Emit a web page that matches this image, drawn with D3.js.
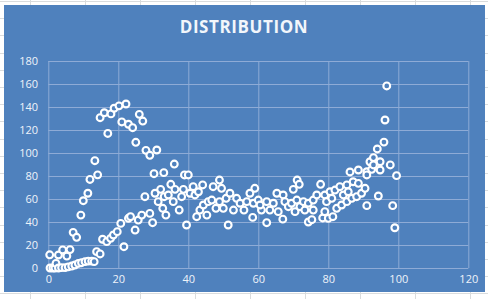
<!DOCTYPE html>
<html>
<head>
<meta charset="utf-8">
<script src="https://cdn.jsdelivr.net/npm/d3@7"></script>
<style>
  body { margin: 0; background: #fff; }
  svg { display: block; }
</style>
</head>
<body>
<svg width="488" height="299"></svg>
<script>
var chartTitle = "DISTRIBUTION";
var xTicks = [0, 20, 40, 60, 80, 100, 120];
var yTicks = [0, 20, 40, 60, 80, 100, 120, 140, 160, 180];

// points, x then y
var xValues = [
    0.4, 0.5, 1.3, 1.9, 2.2, 2.9, 2.9, 3.8, 4.1, 4.8, 5.3, 5.7, 6.2, 6.7, 7.6, 8.6, 9.5, 10.5, 11.4, 12.4, 13.1,
    7.1, 8.1, 9.3, 10.0, 11.3, 11.9, 13.3, 14.1, 14.8, 16.0, 17.0, 17.9, 18.8, 20.2, 21.0, 22.2, 22.9, 24.1,
    25.0, 26.0, 27.0, 27.9, 29.0, 31.0, 30.2, 33.0, 36.0, 38.9, 40.0, 48.9,
    13.8, 14.8, 15.5, 16.7, 17.8, 18.6, 19.7, 20.7, 21.6, 22.9, 23.5, 24.8, 25.7, 26.7, 27.6, 29.0, 29.8,
    30.5, 31.4, 32.1, 32.7, 33.6, 33.1, 34.3, 35.0, 35.7, 36.2, 37.4, 38.1, 38.6, 39.5, 40.5, 41.4, 41.9,
    42.9, 44.1, 42.4, 43.3, 44.3, 45.3, 45.7, 46.7, 47.1, 47.9, 48.9, 49.5, 50.0, 50.8, 51.4, 51.9, 52.9,
    53.8, 54.8, 55.9, 56.7, 57.6, 58.4, 59.0, 58.6, 60.0, 60.9, 62.4, 62.4, 60.5, 63.3, 64.3, 65.3, 65.7,
    67.1, 67.0, 67.6, 68.6, 69.5, 70.0, 70.5, 71.1, 71.7, 71.0, 71.9, 72.9, 73.3, 74.3, 74.3, 75.3, 75.7,
    75.7, 76.7, 77.8, 78.4, 79.0, 79.0, 79.5, 80.0, 80.5, 81.0, 81.3, 81.9, 82.4, 83.3, 83.8, 84.3, 85.3,
    85.3, 85.7, 86.2, 86.7, 87.1, 88.1, 88.6, 88.6, 89.5, 90.5, 91.0, 91.0, 91.0, 91.9, 92.4, 92.9, 92.9,
    94.0, 94.3, 94.8, 94.8, 95.9, 96.2, 96.7, 97.7, 98.4, 99.0, 99.5
];
var yValues = [
    11.5, 0, 0, 0, 4, 0, 11.3, 0.3, 15.7, 0.3, 10.4, 1, 16, 1.7, 2.6, 4, 4.6, 5.5, 6, 6, 5.5,
    31, 26.7, 46, 58.5, 65, 77, 93.3, 81, 130.7, 135, 117, 134, 138.9, 141, 127, 142.6, 125, 122,
    109.3, 133.6, 127.8, 102.3, 98, 102.6, 82, 82.9, 90.4, 80.9, 80.9, 76.5,
    14.2, 12.2, 25, 22.9, 25.8, 28.7, 31.6, 38.8, 18.5, 43.2, 44.6, 33, 41.7, 46, 62, 47.5, 39.4,
    65, 57.7, 68.4, 51.9, 46, 62, 63.5, 72.8, 57.7, 68.4, 50.4, 62, 68.4, 37.4, 65, 70.7, 63.5,
    66.3, 72.2, 44.6, 50.4, 54.8, 46, 57.7, 59.1, 70.7, 51.9, 57.7, 69.3, 51.9, 60.6, 37.4, 65, 50.4,
    60.6, 56.3, 50.4, 57.7, 65, 44, 69.3, 56.3, 59.1, 50.4, 57.7, 39.4, 54.8, 50.4, 56.3, 65, 49,
    63.5, 42.5, 57.7, 53.3, 56.3, 68.4, 49, 76.5, 72.8, 59.1, 53.3, 57.7, 50.4, 56.3, 40, 42, 59.1,
    50.4, 63.5, 72.8, 43.5, 49, 63.5, 57.7, 43.2, 66.3, 60.6, 44.6, 67.8, 51.9, 70.7, 54.8, 63.5, 57.7,
    72.2, 66.3, 83.5, 60.6, 75, 62, 73.6, 85.2, 65, 69.3, 83.7, 54.2, 80.9, 92.4, 85.8, 89.6, 96,
    103.5, 62.6, 85.2, 92.4, 109.5, 128.7, 158.3, 89.6, 54.2, 35, 80.3
];

function main() {
    var svg = d3.select("svg"),
        width = +svg.attr("width"),
        height = +svg.attr("height");

    var blue = "#4f81bd";

    // spreadsheet cells behind the chart
    var cells = svg.append("g");
    d3.range(30, width, 55).forEach(function (x) {
        cells.append("line").attr("x1", x + 0.5).attr("x2", x + 0.5).attr("y1", 0).attr("y2", height)
            .style("stroke", "#dadcdd");
    });
    d3.range(1, height, 17.2).forEach(function (y) {
        cells.append("line").attr("x1", 0).attr("x2", width).attr("y1", Math.round(y) + 0.5).attr("y2", Math.round(y) + 0.5)
            .style("stroke", "#dadcdd");
    });

    // chart area
    svg.append("rect")
        .attr("x", 4).attr("y", 5)
        .attr("width", 481).attr("height", 287)
        .style("fill", blue);

    svg.append("text")
        .attr("x", 244).attr("y", 33)
        .attr("text-anchor", "middle")
        .style("font-family", "'Open Sans', sans-serif")
        .style("font-weight", "bold")
        .style("font-size", "17px")
        .style("letter-spacing", "0.6px")
        .style("fill", "#f2f6fb")
        .text(chartTitle);

    var x = d3.scaleLinear().domain([0, 120]).range([48.3, 468.3]);
    var y = d3.scaleLinear().domain([0, 180]).range([268, 61]);

    // gridlines
    svg.append("g")
        .attr("transform", "translate(0,61)")
        .call(d3.axisBottom(x).tickValues(xTicks).tickSize(207).tickFormat(""))
        .call(function (g) { g.select(".domain").remove(); })
        .selectAll("line").style("stroke", "#8eabd6");

    svg.append("g")
        .attr("transform", "translate(468.3,0)")
        .call(d3.axisLeft(y).tickValues(yTicks).tickSize(420).tickFormat(""))
        .call(function (g) { g.select(".domain").remove(); })
        .selectAll("line").style("stroke", "#8eabd6");

    // axis labels
    var xAxis = svg.append("g")
        .attr("transform", "translate(0,275)")
        .call(d3.axisBottom(x).tickValues(xTicks).tickSize(0).tickPadding(0));
    xAxis.select(".domain").remove();

    var yAxis = svg.append("g")
        .attr("transform", "translate(38,0)")
        .call(d3.axisLeft(y).tickValues(yTicks).tickSize(0).tickPadding(0));
    yAxis.select(".domain").remove();

    svg.selectAll(".tick text")
        .style("font-family", "'Open Sans', sans-serif")
        .style("font-size", "11px")
        .style("fill", "#eef3fa");

    // points
    svg.append("g")
        .selectAll("circle")
        .data(xValues)
        .enter().append("circle")
        .attr("cx", function (d) { return x(d); })
        .attr("cy", function (d, i) { return y(yValues[i]); })
        .attr("r", 3.4)
        .style("fill", blue)
        .style("stroke", "#ffffff")
        .style("stroke-width", 2.1);
}

main();
</script>
</body>
</html>
